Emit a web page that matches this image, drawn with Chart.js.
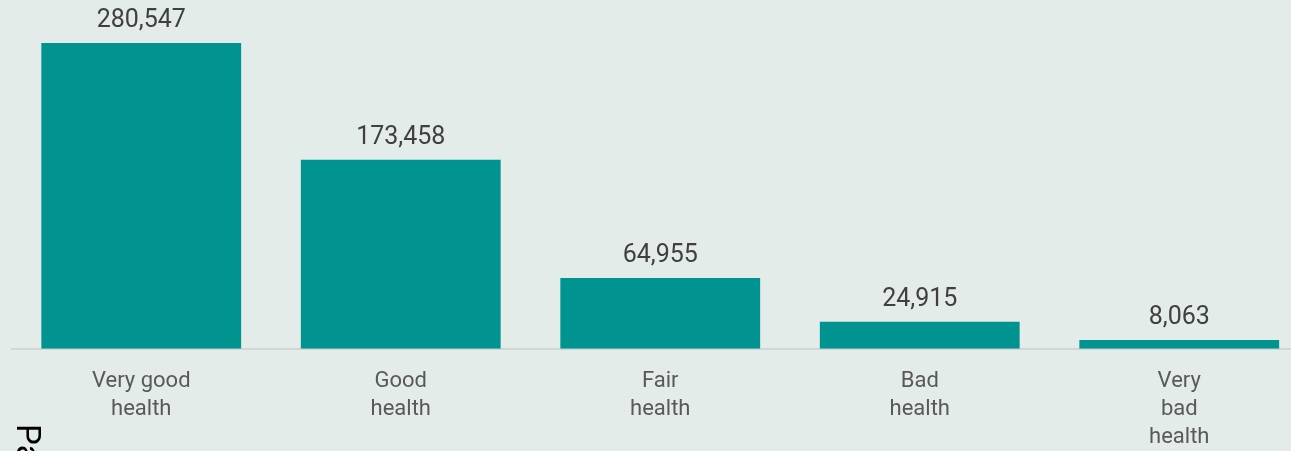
<!DOCTYPE html>
<html>
<head>
<meta charset="utf-8">
<script src="https://cdn.jsdelivr.net/npm/chart.js@4/dist/chart.umd.min.js"></script>
<style>
  html, body { margin: 0; padding: 0; overflow: hidden; background: #e4ecea; }
  #wrap { position: relative; width: 1310px; height: 470px; }
</style>
</head>
<body>
<div id="wrap"><canvas id="chart"></canvas></div>
<script>
// Self-reported health, number of people
const categories = [
    ['Very good', 'health'],
    ['Good', 'health'],
    ['Fair', 'health'],
    ['Bad', 'health'],
    ['Very', 'bad', 'health']
];
const counts = [280547, 173458, 64955, 24915, 8063];
const axisTitle = 'Patients';

const barColor = '#009390';
const fontFamily = 'Roboto, "Noto Sans", sans-serif';

function formatCount(value) {
    return new Intl.NumberFormat('en-US').format(value);
}

// Value labels above each bar
const valueLabels = {
    id: 'valueLabels',
    afterDatasetsDraw(chart) {
        const ctx = chart.ctx;
        const meta = chart.getDatasetMeta(0);
        ctx.save();
        ctx.font = '25px ' + fontFamily;
        ctx.fillStyle = '#404040';
        ctx.textAlign = 'center';
        ctx.textBaseline = 'alphabetic';
        meta.data.forEach((bar, i) => {
            ctx.fillText(formatCount(counts[i]), bar.x, bar.y - 16);
        });
        ctx.restore();
    }
};

// Vertical title reading downwards at the lower left
const sideTitle = {
    id: 'sideTitle',
    afterDraw(chart) {
        const ctx = chart.ctx;
        ctx.save();
        ctx.translate(17, 424);
        ctx.rotate(Math.PI / 2);
        ctx.font = '33px ' + fontFamily;
        ctx.fillStyle = '#000000';
        ctx.textAlign = 'left';
        ctx.textBaseline = 'alphabetic';
        ctx.fillText(axisTitle, 0, 0);
        ctx.restore();
    }
};

new Chart(document.getElementById('chart'), {
    type: 'bar',
    data: {
        labels: categories,
        datasets: [{
            data: counts,
            backgroundColor: barColor,
            borderWidth: 0,
            barPercentage: 0.77,
            categoryPercentage: 1
        }]
    },
    options: {
        responsive: true,
        maintainAspectRatio: false,
        animation: false,
        layout: { padding: { left: 11.5, right: 1, top: 0, bottom: 0 } },
        plugins: {
            legend: { display: false },
            tooltip: { enabled: false }
        },
        scales: {
            x: {
                grid: { display: false, drawTicks: false },
                border: { display: true, color: '#d2d6d5', width: 2 },
                ticks: {
                    color: '#595959',
                    padding: 18,
                    maxRotation: 0,
                    autoSkip: false,
                    font: { family: fontFamily, size: 22, lineHeight: 1.29 }
                }
            },
            y: {
                display: false,
                min: 0,
                max: 320000
            }
        }
    },
    plugins: [valueLabels, sideTitle]
});
</script>
</body>
</html>
